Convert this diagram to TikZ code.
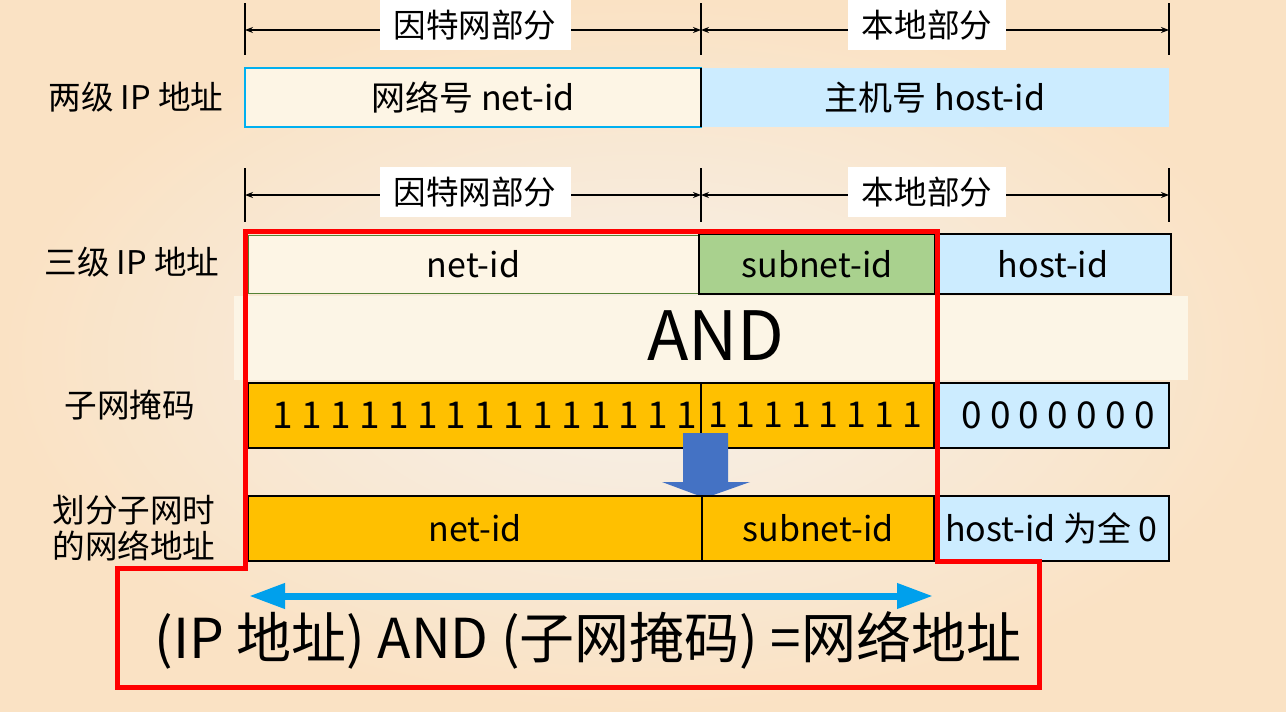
\documentclass[tikz,border=0pt]{standalone}
\usepackage{fontspec}
\setmainfont{Noto Sans CJK SC}
\usetikzlibrary{arrows.meta}
\definecolor{cream}{HTML}{FDF5E5}
\definecolor{hostblue}{HTML}{CCECFF}
\definecolor{subgreen}{HTML}{A9D18E}
\definecolor{maskgold}{HTML}{FFC000}
\definecolor{edgeblue}{HTML}{00B0F0}
\definecolor{netgreen}{HTML}{548235}
\definecolor{downblue}{HTML}{4472C4}
\definecolor{spanblue}{HTML}{00A0EC}
\definecolor{bgin}{HTML}{F6F1EB}
\definecolor{bgout}{HTML}{FAE2C4}
\definecolor{panel}{HTML}{FCF5E6}
\definecolor{frame}{HTML}{FF0000}
\begin{document}
\begin{tikzpicture}[x=0.5pt,y=-0.5pt,
  cell/.style={anchor=north west, inner sep=0pt, outer sep=0pt,
    font=\fontsize{17}{20}\selectfont},
  lab/.style={fill=white, inner xsep=7pt, inner ysep=0pt, minimum height=25pt,
    font=\fontsize{16.3}{19}\selectfont},
  rowlabel/.style={anchor=center, inner sep=0pt, align=center,
    font=\fontsize{16.3}{18}\selectfont},
  tickline/.style={line width=0.6pt},
  dimline/.style={line width=1pt, {Stealth[length=4pt,width=3pt]}-{Stealth[length=4pt,width=3pt]}},
  digits/.style={inner sep=0pt, font=\fontsize{18.5}{22}\selectfont},
  redframe/.style={draw=frame, line width=2.5pt, line join=miter},
]
% background
\shade[inner color=bgin, outer color=bgout] (0,0) rectangle (1286,712);
\useasboundingbox (0,0) rectangle (1286,712);

% ---- dimension marks, two-level address
\draw[tickline] (245,3) -- (245,55);
\draw[tickline] (701,3) -- (701,55);
\draw[tickline] (1169,3) -- (1169,55);
\coordinate (d1a) at (245,30);
\coordinate (d1b) at (701,30);
\coordinate (d1c) at (1169,30);
\draw[dimline] (d1a) -- (d1b);
\draw[dimline] (d1b) -- (d1c);
\node[lab] (l1a) at (475,25) {因特网部分};
\node[lab] (l1b) at (927,25) {本地部分};

% ---- two-level address
\node[rowlabel] (two) at (136,97) {两级 IP 地址};
\node[cell, fill=cream, draw=edgeblue, line width=0.6pt,
  minimum width=228pt, minimum height=29.5pt] (net2) at (245,68) {网络号 net-id};
\node[cell, fill=hostblue, minimum width=234pt, minimum height=29.5pt]
  (host2) at (701,68) {主机号 host-id};
\draw[line width=1pt] (net2.north east) -- (net2.south east);

% ---- dimension marks, three-level address
\draw[tickline] (245,168) -- (245,222);
\draw[tickline] (701,168) -- (701,222);
\draw[tickline] (1169,168) -- (1169,222);
\coordinate (d2a) at (245,195);
\coordinate (d2b) at (701,195);
\coordinate (d2c) at (1169,195);
\draw[dimline] (d2a) -- (d2b);
\draw[dimline] (d2b) -- (d2c);
\node[lab] (l2a) at (475,192) {因特网部分};
\node[lab] (l2b) at (927,192) {本地部分};

% ---- three-level address
\fill[panel] (234,296) rectangle (1188,380);
\node[rowlabel] (three) at (132,262) {三级 IP 地址};
\node[cell, fill=cream, draw=netgreen, line width=0.5pt,
  minimum width=225.5pt, minimum height=29pt] (net3) at (248,235) {net-id};
\node[cell, fill=subgreen, draw=black, line width=1pt,
  minimum width=118pt, minimum height=30pt] (sub3) at (699,234) {subnet-id};
\node[cell, fill=hostblue, draw=black, line width=1pt,
  minimum width=118pt, minimum height=30pt] (host3) at (935,234) {host-id};

\node[inner sep=0pt, font=\fontsize{34}{40}\selectfont] (and) at (716,336) {AND};

% ---- subnet mask
\node[rowlabel] (masklab) at (130,405) {子网掩码};
\node[cell, fill=maskgold, draw=black, line width=0.6pt,
  minimum width=226.5pt, minimum height=32.5pt] (m1) at (248,383) {};
\node[cell, fill=maskgold, draw=black, line width=0.6pt,
  minimum width=116.5pt, minimum height=32.5pt] (m2) at (701,383) {};
\node[cell, fill=hostblue, draw=black, line width=0.6pt,
  minimum width=117.5pt, minimum height=32.5pt] (m3) at (934,383) {};
\node[digits] (ones1) at (485,415) {1 1 1 1 1 1 1 1 1 1 1 1 1 1 1};
\node[digits, font=\fontsize{17.8}{22}\selectfont] (ones2) at (815,415) {1 1 1 1 1 1 1 1};
\node[digits] (zeros) at (1058,415) {0 0 0 0 0 0 0};

% ---- result of the AND
\fill[downblue] (683,433) -- (728,433) -- (728,482) -- (750,482) -- (705,498)
  -- (662,482) -- (683,482) -- cycle;

\node[rowlabel] (reslab) at (134,528) {划分子网时\\的网络地址};
\node[cell, fill=maskgold, draw=black, line width=0.6pt,
  minimum width=227pt, minimum height=32.5pt] (r1) at (248,496) {net-id};
\node[cell, fill=maskgold, draw=black, line width=0.6pt,
  minimum width=116pt, minimum height=32.5pt] (r2) at (702,496) {subnet-id};
\node[cell, fill=hostblue, draw=black, line width=0.6pt,
  minimum width=117.5pt, minimum height=32.5pt] (r3) at (934,496) {host-id 为全 0};

% ---- highlighted network part
\draw[redframe] (245,231) -- (937,231) -- (937,561) -- (1039,561) -- (1039,687)
  -- (117,687) -- (117,568) -- (245,568) -- cycle;

\coordinate (spanl) at (249,596);
\coordinate (spanr) at (933,596);
\draw[spanblue, line width=3.5pt,
  {Triangle[length=18pt,width=12pt]}-{Triangle[length=18pt,width=12pt]}]
  (spanl) -- (spanr);

\node[inner sep=0pt, font=\fontsize{27.5}{32}\selectfont] (rule) at (588,640)
  {(IP 地址) AND (子网掩码) =网络地址};
\end{tikzpicture}
\end{document}
